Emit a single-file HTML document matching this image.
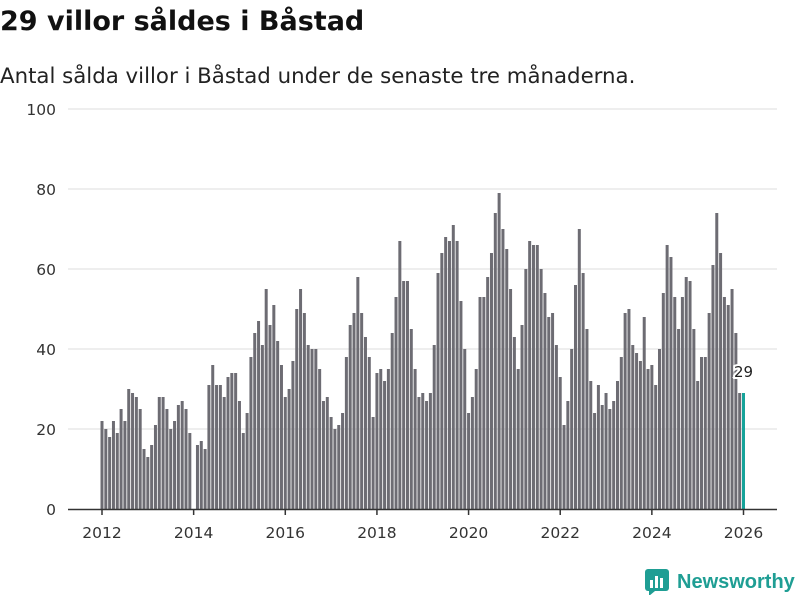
<!DOCTYPE html>
<html><head><meta charset="utf-8"><style>
body{margin:0;width:800px;height:600px;background:#fff;font-family:"DejaVu Sans",sans-serif;overflow:hidden;position:relative}
#title{position:absolute;left:0;top:6px;font-size:27px;font-weight:bold;color:#111;margin:0;white-space:nowrap}
#sub{position:absolute;left:0;top:64px;font-size:21.3px;color:#222;white-space:nowrap}
svg{position:absolute;left:0;top:0}
</style></head><body>
<h1 id="title">29 villor såldes i Båstad</h1>
<div id="sub">Antal sålda villor i Båstad under de senaste tre månaderna.</div>
<svg id="chart" width="800" height="600"></svg>
<script>
const startYear = 2012;
const values = [
22,20,18,22,19,25,22,30,29,28,25,15,
13,16,21,28,28,25,20,22,26,27,25,19,
0,16,17,15,31,36,31,31,28,33,34,34,
27,19,24,38,44,47,41,55,46,51,42,36,
28,30,37,50,55,49,41,40,40,35,27,28,
23,20,21,24,38,46,49,58,49,43,38,23,
34,35,32,35,44,53,67,57,57,45,35,28,
29,27,29,41,59,64,68,67,71,67,52,40,
24,28,35,53,53,58,64,74,79,70,65,55,
43,35,46,60,67,66,66,60,54,48,49,41,
33,21,27,40,56,70,59,45,32,24,31,26,
29,25,27,32,38,49,50,41,39,37,48,35,
36,31,40,54,66,63,53,45,53,58,57,45,
32,38,38,49,61,74,64,53,51,55,44,29,
29];
const yTicks = [0,20,40,60,80,100];
const xTicks = [2012,2014,2016,2018,2020,2022,2024,2026];
const NS='http://www.w3.org/2000/svg';
const svg=document.getElementById('chart');
const x0=102, x1=743.5, y0=509, y1=109;
const xs=i=>x0+(x1-x0)*i/((2026-startYear)*12);
const ys=v=>y0-(y0-y1)*v/100;
function mk(t,a){const e=document.createElementNS(NS,t);for(const k in a)e.setAttribute(k,a[k]);svg.appendChild(e);return e;}
yTicks.forEach(v=>{
  if(v>0){const g=mk('line',{x1:68,x2:777,y1:ys(v),y2:ys(v),stroke:'#dcdcdc','stroke-width':1});
  
  }
  const t=mk('text',{x:56,y:ys(v)+6,'text-anchor':'end','font-size':15.5,fill:'#333','font-family':'DejaVu Sans, sans-serif'});
  t.textContent=v;
  
  
});
values.forEach((v,i)=>{
  const last=i===values.length-1;
  const r=mk('rect',{x:xs(i)-1.5,y:ys(v),width:3,height:y0-ys(v),fill:last?'#16a39a':'#6d6c73'});
  
  
});
const ax=mk('line',{x1:68,x2:777,y1:y0+0.5,y2:y0+0.5,stroke:'#333','stroke-width':1.5});


xTicks.forEach(yr=>{
  const px=xs((yr-startYear)*12);
  const tk=mk('line',{x1:px,x2:px,y1:y0,y2:y0+6,stroke:'#333','stroke-width':1.5});
  
  
  const t=mk('text',{x:px,y:538,'text-anchor':'middle','font-size':15.5,fill:'#333','font-family':'DejaVu Sans, sans-serif'});
  t.textContent=yr;
  
  
});
const li=values.length-1;
const lab=mk('text',{x:xs(li),y:ys(values[li])-16,'text-anchor':'middle','font-size':15,fill:'#222',stroke:'#fff','stroke-width':4,'paint-order':'stroke','font-family':'DejaVu Sans, sans-serif'});
lab.textContent=values[li];


</script>
<div style="position:absolute;left:645px;top:569px;display:flex;align-items:center;gap:8px">
<svg width="24" height="26" style="position:static" viewBox="0 0 24 26"><rect x="0" y="0" width="24" height="22" rx="3" fill="#1f9e94"/><polygon points="4,22 10,22 4,27" fill="#1f9e94"/><rect x="5" y="11" width="3" height="8" fill="#fff"/><rect x="10" y="7" width="3" height="12" fill="#fff"/><rect x="15" y="9" width="3" height="10" fill="#fff"/></svg>
<span style="font-size:20px;font-weight:bold;color:#1f9e94;font-family:'Liberation Sans',sans-serif">Newsworthy</span></div>
</body></html>
